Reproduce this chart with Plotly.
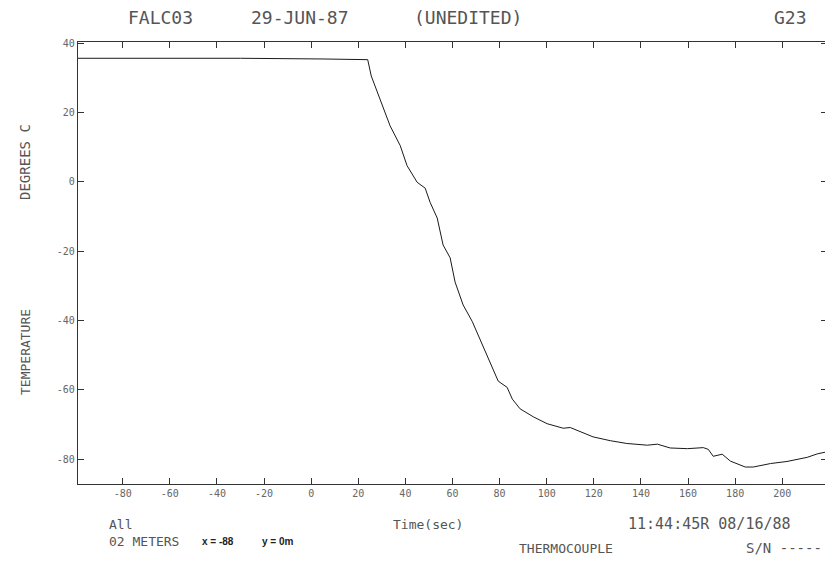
import plotly.graph_objects as go

# ---- data ----
time_s = [-99, -60, -30, 5, 20, 24, 25.5, 29.3, 33.5, 37.8, 40.7, 45, 48.4, 50.5,
          53.5, 56, 59, 61.1, 64.5, 68.4, 72.6, 76.9, 79.4, 83.2, 85.4, 88.7, 94.3,
          100.2, 107, 110, 115.5, 119.7, 127, 134, 142.7, 147, 152.4, 159.7, 166.5,
          168.6, 170.7, 174.5, 178, 184.3, 187.7, 195, 202, 210.6, 214.9, 219]
temp_c = [35.7, 35.8, 35.7, 35.5, 35.4, 35.3, 30.6, 24.0, 16.2, 10.5, 4.7, -0.1, -1.8,
          -5.9, -10.4, -18.2, -21.9, -28.9, -35.5, -40.3, -46.9, -53.5, -57.5, -59.3,
          -62.7, -65.5, -67.8, -69.8, -71.1, -70.9, -72.5, -73.6, -74.7, -75.5, -76.0,
          -75.7, -76.8, -77.0, -76.7, -77.2, -79.2, -78.6, -80.6, -82.3, -82.3, -81.3,
          -80.7, -79.5, -78.5, -77.9]

x_ticks = [-80, -60, -40, -20, 0, 20, 40, 60, 80, 100, 120, 140, 160, 180, 200]
x_tick_labels = [str(v) for v in x_ticks]
y_ticks = [-80, -60, -40, -20, 0, 20, 40]
y_tick_labels = [str(v) for v in y_ticks]

# page body has an 8px default margin; lay out in window pixels minus that offset
OFF = 8
W, H = 833 - OFF, 561 - OFF
L, R, T, B = 78 - OFF, 827 - OFF, 42 - OFF, 484 - OFF

def px(x):
    return (x - OFF - L) / (R - L)

def py(y):
    return (B - (y - OFF)) / (B - T)

MONO = "DejaVu Sans Mono"
TXT = "#555555"

fig = go.Figure()
fig.add_trace(go.Scatter(x=time_s, y=temp_c, mode="lines",
                         line=dict(color="#1a1a1a", width=1), showlegend=False))

axis_common = dict(showline=True, mirror="ticks", linecolor="#333", linewidth=1.4,
                   ticks="inside", ticklen=6, tickwidth=1.1, tickcolor="#333",
                   showgrid=False, zeroline=False,
                   tickfont=dict(family=MONO, size=10, color="#666"))

fig.update_layout(
    width=W, height=H,
    margin=dict(l=L, r=W - R, t=T, b=H - B),
    paper_bgcolor="white", plot_bgcolor="white",
    xaxis=dict(range=[-99, 219], tickmode="array", tickvals=x_ticks,
               ticktext=x_tick_labels, **axis_common),
    yaxis=dict(range=[-87.2, 40.4], tickmode="array", tickvals=y_ticks,
               ticktext=y_tick_labels, **axis_common),
)

def ann(text, x, y, size, xanchor="center", family=MONO, color=TXT, angle=0):
    fig.add_annotation(text=text, x=px(x), y=py(y), xref="paper", yref="paper",
                       showarrow=False, xanchor=xanchor, yanchor="middle",
                       textangle=angle, font=dict(family=family, size=size, color=color))

# header
ann("FALC03", 160, 18, 18)
ann("29-JUN-87", 300, 18, 18)
ann("(UNEDITED)", 468, 18, 18)
ann("G23", 790, 18, 18)

# y-axis title
ann("DEGREES C", 25, 162, 14, angle=-90)
ann("TEMPERATURE", 25, 352, 13, angle=-90)

# bottom texts
ann("All", 107, 524, 13, xanchor="left")
ann("02 METERS", 107, 541, 13, xanchor="left")
ann("<b>x = -88</b>", 200, 541, 10, xanchor="left", family="Liberation Sans", color="#222")
ann("<b>y = 0m</b>", 260, 541, 10, xanchor="left", family="Liberation Sans", color="#222")
ann("Time(sec)", 428, 524, 13)
ann("11:44:45R 08/16/88", 626, 524, 15, xanchor="left")
ann("THERMOCOUPLE", 566, 548, 13)
ann("S/N -----", 744, 548, 14, xanchor="left")

fig.write_html("out.html")
